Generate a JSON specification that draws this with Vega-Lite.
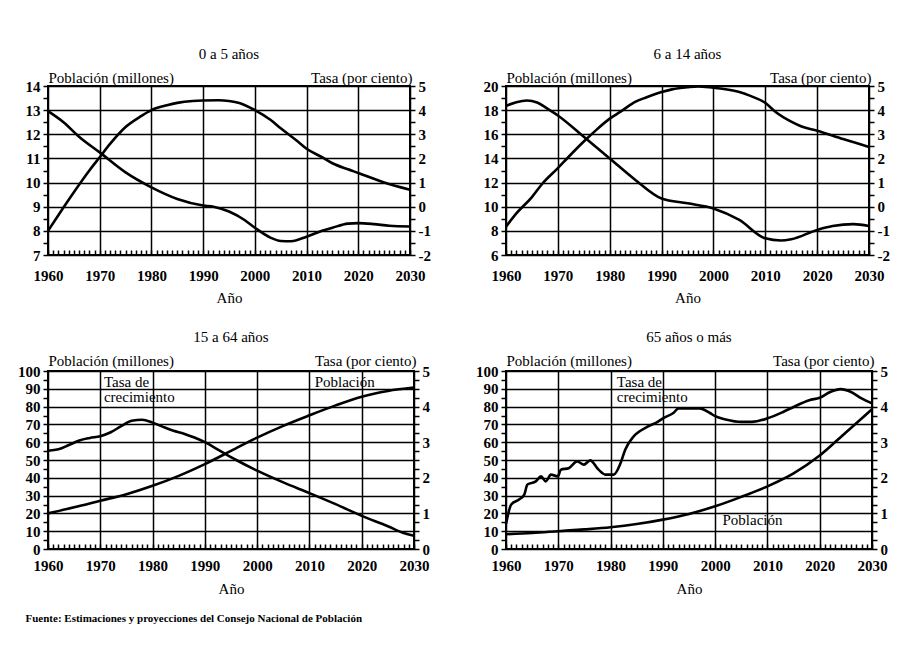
{
  "$schema": "https://vega.github.io/schema/vega-lite/v6.json",
  "background": "white",
  "padding": {"left": 16, "top": 46, "right": 5, "bottom": 5},
  "title": {"text": "Fuente: Estimaciones y proyecciones del Consejo Nacional de Población", "orient": "bottom", "anchor": "start", "fontSize": 11, "fontWeight": "bold", "offset": 16, "dx": 9},
  "datasets": {
    "p1pob": [
      {"anio":1960,"valor":8.0},{"anio":1962,"valor":8.65},{"anio":1965,"valor":9.6},{"anio":1968,"valor":10.5},{"anio":1970,"valor":11.05},{"anio":1972,"valor":11.6},{"anio":1975,"valor":12.3},{"anio":1978,"valor":12.75},{"anio":1980,"valor":13.0},{"anio":1983,"valor":13.2},{"anio":1985,"valor":13.3},{"anio":1988,"valor":13.38},{"anio":1990,"valor":13.4},{"anio":1993,"valor":13.41},{"anio":1995,"valor":13.38},{"anio":1997,"valor":13.3},{"anio":2000,"valor":13.0},{"anio":2003,"valor":12.6},{"anio":2005,"valor":12.25},{"anio":2008,"valor":11.75},{"anio":2010,"valor":11.4},{"anio":2013,"valor":11.05},{"anio":2015,"valor":10.8},{"anio":2018,"valor":10.55},{"anio":2020,"valor":10.4},{"anio":2025,"valor":10.0},{"anio":2030,"valor":9.7}
    ],
    "p1tasa": [
      {"anio":1960,"valor":3.96},{"anio":1963,"valor":3.5},{"anio":1966,"valor":2.9},{"anio":1970,"valor":2.25},{"anio":1975,"valor":1.42},{"anio":1980,"valor":0.8},{"anio":1985,"valor":0.32},{"anio":1990,"valor":0.05},{"anio":1992,"valor":0.0},{"anio":1995,"valor":-0.2},{"anio":1998,"valor":-0.55},{"anio":2000,"valor":-0.87},{"anio":2003,"valor":-1.28},{"anio":2005,"valor":-1.42},{"anio":2007,"valor":-1.43},{"anio":2010,"valor":-1.24},{"anio":2013,"valor":-1.0},{"anio":2015,"valor":-0.87},{"anio":2018,"valor":-0.7},{"anio":2020,"valor":-0.68},{"anio":2023,"valor":-0.72},{"anio":2026,"valor":-0.79},{"anio":2030,"valor":-0.82}
    ],
    "p2pob": [
      {"anio":1960,"valor":8.35},{"anio":1962,"valor":9.45},{"anio":1965,"valor":10.8},{"anio":1967,"valor":11.9},{"anio":1970,"valor":13.2},{"anio":1972,"valor":14.1},{"anio":1975,"valor":15.4},{"anio":1977,"valor":16.2},{"anio":1980,"valor":17.3},{"anio":1982,"valor":17.85},{"anio":1985,"valor":18.7},{"anio":1987,"valor":19.05},{"anio":1990,"valor":19.5},{"anio":1992,"valor":19.72},{"anio":1995,"valor":19.9},{"anio":1997,"valor":19.97},{"anio":2000,"valor":19.85},{"anio":2002,"valor":19.75},{"anio":2005,"valor":19.5},{"anio":2007,"valor":19.2},{"anio":2010,"valor":18.6},{"anio":2012,"valor":17.85},{"anio":2015,"valor":17.05},{"anio":2017,"valor":16.65},{"anio":2020,"valor":16.3},{"anio":2025,"valor":15.6},{"anio":2030,"valor":14.95}
    ],
    "p2tasa": [
      {"anio":1960,"valor":4.18},{"anio":1962,"valor":4.33},{"anio":1964,"valor":4.4},{"anio":1966,"valor":4.32},{"anio":1968,"valor":4.06},{"anio":1970,"valor":3.78},{"anio":1975,"valor":2.9},{"anio":1980,"valor":2.0},{"anio":1985,"valor":1.1},{"anio":1990,"valor":0.34},{"anio":1995,"valor":0.14},{"anio":2000,"valor":-0.07},{"anio":2005,"valor":-0.55},{"anio":2010,"valor":-1.31},{"anio":2013,"valor":-1.4},{"anio":2015,"valor":-1.35},{"anio":2020,"valor":-0.96},{"anio":2023,"valor":-0.8},{"anio":2027,"valor":-0.72},{"anio":2030,"valor":-0.8}
    ],
    "p3pob": [
      {"anio":1960,"valor":20.0},{"anio":1965,"valor":23.4},{"anio":1970,"valor":27.1},{"anio":1975,"valor":30.8},{"anio":1980,"valor":35.5},{"anio":1985,"valor":41.1},{"anio":1990,"valor":47.7},{"anio":1995,"valor":55.1},{"anio":2000,"valor":62.6},{"anio":2005,"valor":69.2},{"anio":2010,"valor":75.1},{"anio":2015,"valor":80.7},{"anio":2020,"valor":85.6},{"anio":2025,"valor":88.8},{"anio":2030,"valor":90.7}
    ],
    "p3tasa": [
      {"anio":1960,"valor":2.76},{"anio":1962,"valor":2.8},{"anio":1964,"valor":2.92},{"anio":1966,"valor":3.05},{"anio":1968,"valor":3.12},{"anio":1970,"valor":3.17},{"anio":1972,"valor":3.28},{"anio":1974,"valor":3.45},{"anio":1976,"valor":3.6},{"anio":1978,"valor":3.63},{"anio":1980,"valor":3.55},{"anio":1982,"valor":3.43},{"anio":1984,"valor":3.32},{"anio":1986,"valor":3.24},{"anio":1988,"valor":3.13},{"anio":1990,"valor":3.0},{"anio":1993,"valor":2.75},{"anio":1996,"valor":2.5},{"anio":2000,"valor":2.2},{"anio":2005,"valor":1.87},{"anio":2010,"valor":1.57},{"anio":2015,"valor":1.26},{"anio":2020,"valor":0.93},{"anio":2025,"valor":0.64},{"anio":2028,"valor":0.45},{"anio":2030,"valor":0.37}
    ],
    "p3notas": [
      {"anio":1970.7,"valor":93.6,"texto":"Tasa de"},{"anio":1970.7,"valor":85.2,"texto":"crecimiento"},{"anio":2011,"valor":93.8,"texto":"Población"}
    ],
    "p4pob": [
      {"anio":1960,"valor":8.3},{"anio":1965,"valor":9.0},{"anio":1970,"valor":10.0},{"anio":1975,"valor":11.0},{"anio":1980,"valor":12.2},{"anio":1985,"valor":14.0},{"anio":1990,"valor":16.5},{"anio":1995,"valor":19.7},{"anio":2000,"valor":24.0},{"anio":2005,"valor":29.3},{"anio":2010,"valor":35.2},{"anio":2015,"valor":42.5},{"anio":2020,"valor":52.5},{"anio":2025,"valor":65.5},{"anio":2030,"valor":78.5}
    ],
    "p4tasa": [
      {"anio":1960,"valor":0.7},{"anio":1961,"valor":1.25},{"anio":1962.5,"valor":1.39},{"anio":1963.5,"valor":1.53},{"anio":1964.1,"valor":1.81},{"anio":1965.7,"valor":1.9},{"anio":1966.7,"valor":2.04},{"anio":1967.6,"valor":1.9},{"anio":1968.6,"valor":2.09},{"anio":1969.9,"valor":2.04},{"anio":1970.5,"valor":2.23},{"anio":1972,"valor":2.27},{"anio":1973.6,"valor":2.46},{"anio":1974.9,"valor":2.37},{"anio":1976.1,"valor":2.49},{"anio":1977.7,"valor":2.23},{"anio":1979,"valor":2.09},{"anio":1980.6,"valor":2.09},{"anio":1981.9,"valor":2.41},{"anio":1982.8,"valor":2.79},{"anio":1984.4,"valor":3.16},{"anio":1987,"valor":3.43},{"anio":1989,"valor":3.57},{"anio":1990,"valor":3.67},{"anio":1992,"valor":3.82},{"anio":1993,"valor":3.95},{"anio":1995,"valor":3.95},{"anio":1997,"valor":3.95},{"anio":1999,"valor":3.82},{"anio":2000,"valor":3.73},{"anio":2002,"valor":3.64},{"anio":2005,"valor":3.57},{"anio":2007,"valor":3.57},{"anio":2010,"valor":3.67},{"anio":2013,"valor":3.85},{"anio":2015,"valor":3.99},{"anio":2018,"valor":4.18},{"anio":2020,"valor":4.25},{"anio":2022,"valor":4.41},{"anio":2024,"valor":4.49},{"anio":2026,"valor":4.41},{"anio":2028,"valor":4.23},{"anio":2030,"valor":4.09}
    ],
    "p4notas": [
      {"anio":1981.2,"valor":93.8,"texto":"Tasa de"},{"anio":1981.2,"valor":85.4,"texto":"crecimiento"},{"anio":2001.4,"valor":16.4,"texto":"Población"}
    ]
  },
  "columns": 2,
  "spacing": {"row": 116, "column": 92},
  "bounds": "flush",
  "concat": [
    {
      "width": 362, "height": 169,
      "title": {"text": "0 a 5 años"},
      "encoding": {
        "x": {"field": "anio", "type": "quantitative", "scale": {"domain": [1960, 2030], "nice": false},
          "axis": {"values": [1960,1961,1962,1963,1964,1965,1966,1967,1968,1969,1970,1971,1972,1973,1974,1975,1976,1977,1978,1979,1980,1981,1982,1983,1984,1985,1986,1987,1988,1989,1990,1991,1992,1993,1994,1995,1996,1997,1998,1999,2000,2001,2002,2003,2004,2005,2006,2007,2008,2009,2010,2011,2012,2013,2014,2015,2016,2017,2018,2019,2020,2021,2022,2023,2024,2025,2026,2027,2028,2029,2030],
            "labelExpr": "datum.value % 10 === 0 ? '' + datum.value : ''", "grid": true,
            "gridOpacity": {"condition": {"test": "datum.value % 10 === 0", "value": 1}, "value": 0},
            "tickSize": -5, "labelPadding": 18, "title": "Año", "titlePadding": 7}}
      },
      "layer": [
        {"data": {"name": "p1pob"}, "mark": {"type": "line"},
          "encoding": {"y": {"field": "valor", "type": "quantitative", "scale": {"domain": [7, 14], "nice": false, "zero": false},
            "axis": {"values": [7,7.5,8,8.5,9,9.5,10,10.5,11,11.5,12,12.5,13,13.5,14], "labelExpr": "datum.value % 1 === 0 ? '' + datum.value : ''", "grid": true,
              "gridOpacity": {"condition": {"test": "datum.value % 1 === 0", "value": 1}, "value": 0},
              "title": "Población (millones)", "titleAngle": 0, "titleAlign": "left", "titleBaseline": "alphabetic", "titleX": 0, "titleY": -4}}}},
        {"data": {"name": "p1tasa"}, "mark": {"type": "line"},
          "encoding": {"y": {"field": "valor", "type": "quantitative", "scale": {"domain": [-2, 5], "nice": false, "zero": false},
            "axis": {"orient": "right", "values": [-2,-1.5,-1,-0.5,0,0.5,1,1.5,2,2.5,3,3.5,4,4.5,5], "labelExpr": "datum.value % 1 === 0 ? '' + datum.value : ''",
              "title": "Tasa (por ciento)", "titleAngle": 0, "titleAlign": "right", "titleBaseline": "alphabetic", "titleX": 2, "titleY": -4}}}}
      ],
      "resolve": {"scale": {"y": "independent"}}
    },
    {
      "width": 363, "height": 169,
      "title": {"text": "6 a 14 años"},
      "encoding": {
        "x": {"field": "anio", "type": "quantitative", "scale": {"domain": [1960, 2030], "nice": false},
          "axis": {"values": [1960,1961,1962,1963,1964,1965,1966,1967,1968,1969,1970,1971,1972,1973,1974,1975,1976,1977,1978,1979,1980,1981,1982,1983,1984,1985,1986,1987,1988,1989,1990,1991,1992,1993,1994,1995,1996,1997,1998,1999,2000,2001,2002,2003,2004,2005,2006,2007,2008,2009,2010,2011,2012,2013,2014,2015,2016,2017,2018,2019,2020,2021,2022,2023,2024,2025,2026,2027,2028,2029,2030],
            "labelExpr": "datum.value % 10 === 0 ? '' + datum.value : ''", "grid": true,
            "gridOpacity": {"condition": {"test": "datum.value % 10 === 0", "value": 1}, "value": 0},
            "tickSize": -5, "labelPadding": 18, "title": "Año", "titlePadding": 7}}
      },
      "layer": [
        {"data": {"name": "p2pob"}, "mark": {"type": "line"},
          "encoding": {"y": {"field": "valor", "type": "quantitative", "scale": {"domain": [6, 20], "nice": false, "zero": false},
            "axis": {"values": [6,7,8,9,10,11,12,13,14,15,16,17,18,19,20], "labelExpr": "datum.value % 2 === 0 ? '' + datum.value : ''", "grid": true,
              "gridOpacity": {"condition": {"test": "datum.value % 2 === 0", "value": 1}, "value": 0},
              "title": "Población (millones)", "titleAngle": 0, "titleAlign": "left", "titleBaseline": "alphabetic", "titleX": 0, "titleY": -4}}}},
        {"data": {"name": "p2tasa"}, "mark": {"type": "line"},
          "encoding": {"y": {"field": "valor", "type": "quantitative", "scale": {"domain": [-2, 5], "nice": false, "zero": false},
            "axis": {"orient": "right", "values": [-2,-1.5,-1,-0.5,0,0.5,1,1.5,2,2.5,3,3.5,4,4.5,5], "labelExpr": "datum.value % 1 === 0 ? '' + datum.value : ''",
              "title": "Tasa (por ciento)", "titleAngle": 0, "titleAlign": "right", "titleBaseline": "alphabetic", "titleX": 2, "titleY": -4}}}}
      ],
      "resolve": {"scale": {"y": "independent"}}
    },
    {
      "width": 366, "height": 178,
      "title": {"text": "15 a 64 años"},
      "encoding": {
        "x": {"field": "anio", "type": "quantitative", "scale": {"domain": [1960, 2030], "nice": false},
          "axis": {"values": [1960,1961,1962,1963,1964,1965,1966,1967,1968,1969,1970,1971,1972,1973,1974,1975,1976,1977,1978,1979,1980,1981,1982,1983,1984,1985,1986,1987,1988,1989,1990,1991,1992,1993,1994,1995,1996,1997,1998,1999,2000,2001,2002,2003,2004,2005,2006,2007,2008,2009,2010,2011,2012,2013,2014,2015,2016,2017,2018,2019,2020,2021,2022,2023,2024,2025,2026,2027,2028,2029,2030],
            "labelExpr": "datum.value % 10 === 0 ? '' + datum.value : ''", "grid": true,
            "gridOpacity": {"condition": {"test": "datum.value % 10 === 0", "value": 1}, "value": 0},
            "tickSize": -5, "labelPadding": 14, "title": "Año", "titlePadding": 8}}
      },
      "layer": [
        {"data": {"name": "p3pob"}, "mark": {"type": "line"},
          "encoding": {"y": {"field": "valor", "type": "quantitative", "scale": {"domain": [0, 100], "nice": false},
            "axis": {"values": [0,5,10,15,20,25,30,35,40,45,50,55,60,65,70,75,80,85,90,95,100], "labelExpr": "datum.value % 10 === 0 ? '' + datum.value : ''", "grid": true,
              "gridOpacity": {"condition": {"test": "datum.value % 10 === 0", "value": 1}, "value": 0},
              "title": "Población (millones)", "titleAngle": 0, "titleAlign": "left", "titleBaseline": "alphabetic", "titleX": 0, "titleY": -6}}}},
        {"data": {"name": "p3tasa"}, "mark": {"type": "line"},
          "encoding": {"y": {"field": "valor", "type": "quantitative", "scale": {"domain": [0, 5], "nice": false},
            "axis": {"orient": "right", "values": [0,0.25,0.5,0.75,1,1.25,1.5,1.75,2,2.25,2.5,2.75,3,3.25,3.5,3.75,4,4.25,4.5,4.75,5], "labelExpr": "datum.value % 1 === 0 ? '' + datum.value : ''",
              "title": "Tasa (por ciento)", "titleAngle": 0, "titleAlign": "right", "titleBaseline": "alphabetic", "titleX": 2, "titleY": -6}}}},
        {"data": {"name": "p3notas"}, "mark": {"type": "text", "align": "left", "baseline": "middle", "fontSize": 15},
          "encoding": {"y": {"field": "valor", "type": "quantitative", "scale": {"domain": [0, 100], "nice": false}, "axis": null},
            "text": {"field": "texto"}}}
      ],
      "resolve": {"scale": {"y": "independent"}}
    },
    {
      "width": 366, "height": 178,
      "title": {"text": "65 años o más"},
      "encoding": {
        "x": {"field": "anio", "type": "quantitative", "scale": {"domain": [1960, 2030], "nice": false},
          "axis": {"values": [1960,1961,1962,1963,1964,1965,1966,1967,1968,1969,1970,1971,1972,1973,1974,1975,1976,1977,1978,1979,1980,1981,1982,1983,1984,1985,1986,1987,1988,1989,1990,1991,1992,1993,1994,1995,1996,1997,1998,1999,2000,2001,2002,2003,2004,2005,2006,2007,2008,2009,2010,2011,2012,2013,2014,2015,2016,2017,2018,2019,2020,2021,2022,2023,2024,2025,2026,2027,2028,2029,2030],
            "labelExpr": "datum.value % 10 === 0 ? '' + datum.value : ''", "grid": true,
            "gridOpacity": {"condition": {"test": "datum.value % 10 === 0", "value": 1}, "value": 0},
            "tickSize": -5, "labelPadding": 14, "title": "Año", "titlePadding": 8}}
      },
      "layer": [
        {"data": {"name": "p4pob"}, "mark": {"type": "line"},
          "encoding": {"y": {"field": "valor", "type": "quantitative", "scale": {"domain": [0, 100], "nice": false},
            "axis": {"values": [0,5,10,15,20,25,30,35,40,45,50,55,60,65,70,75,80,85,90,95,100], "labelExpr": "datum.value % 10 === 0 ? '' + datum.value : ''", "grid": true,
              "gridOpacity": {"condition": {"test": "datum.value % 10 === 0", "value": 1}, "value": 0},
              "title": "Población (millones)", "titleAngle": 0, "titleAlign": "left", "titleBaseline": "alphabetic", "titleX": 0, "titleY": -6}}}},
        {"data": {"name": "p4tasa"}, "mark": {"type": "line"},
          "encoding": {"y": {"field": "valor", "type": "quantitative", "scale": {"domain": [0, 5], "nice": false},
            "axis": {"orient": "right", "values": [0,0.25,0.5,0.75,1,1.25,1.5,1.75,2,2.25,2.5,2.75,3,3.25,3.5,3.75,4,4.25,4.5,4.75,5], "labelExpr": "datum.value % 1 === 0 ? '' + datum.value : ''",
              "title": "Tasa (por ciento)", "titleAngle": 0, "titleAlign": "right", "titleBaseline": "alphabetic", "titleX": 2, "titleY": -6}}}},
        {"data": {"name": "p4notas"}, "mark": {"type": "text", "align": "left", "baseline": "middle", "fontSize": 15},
          "encoding": {"y": {"field": "valor", "type": "quantitative", "scale": {"domain": [0, 100], "nice": false}, "axis": null},
            "text": {"field": "texto"}}}
      ],
      "resolve": {"scale": {"y": "independent"}}
    }
  ],
  "config": {
    "font": "Liberation Serif",
    "view": {"stroke": "black", "strokeWidth": 2},
    "axis": {"domain": false, "grid": false, "gridColor": "black", "gridWidth": 1.5, "labelFont": "Liberation Serif", "labelFontSize": 15, "labelFontWeight": "bold", "labelColor": "black", "tickColor": "black", "tickWidth": 1.5, "tickSize": 5, "labelPadding": 3, "titleFont": "Liberation Serif", "titleFontSize": 15, "titleFontWeight": "normal", "titleColor": "black", "labelOverlap": false, "labelFlush": false, "labelBound": false},
    "title": {"font": "Liberation Serif", "fontSize": 15, "fontWeight": "normal", "color": "black", "offset": 8},
    "line": {"color": "black", "strokeWidth": 2.6, "interpolate": "monotone"},
    "text": {"color": "black", "font": "Liberation Serif"}
  }
}
